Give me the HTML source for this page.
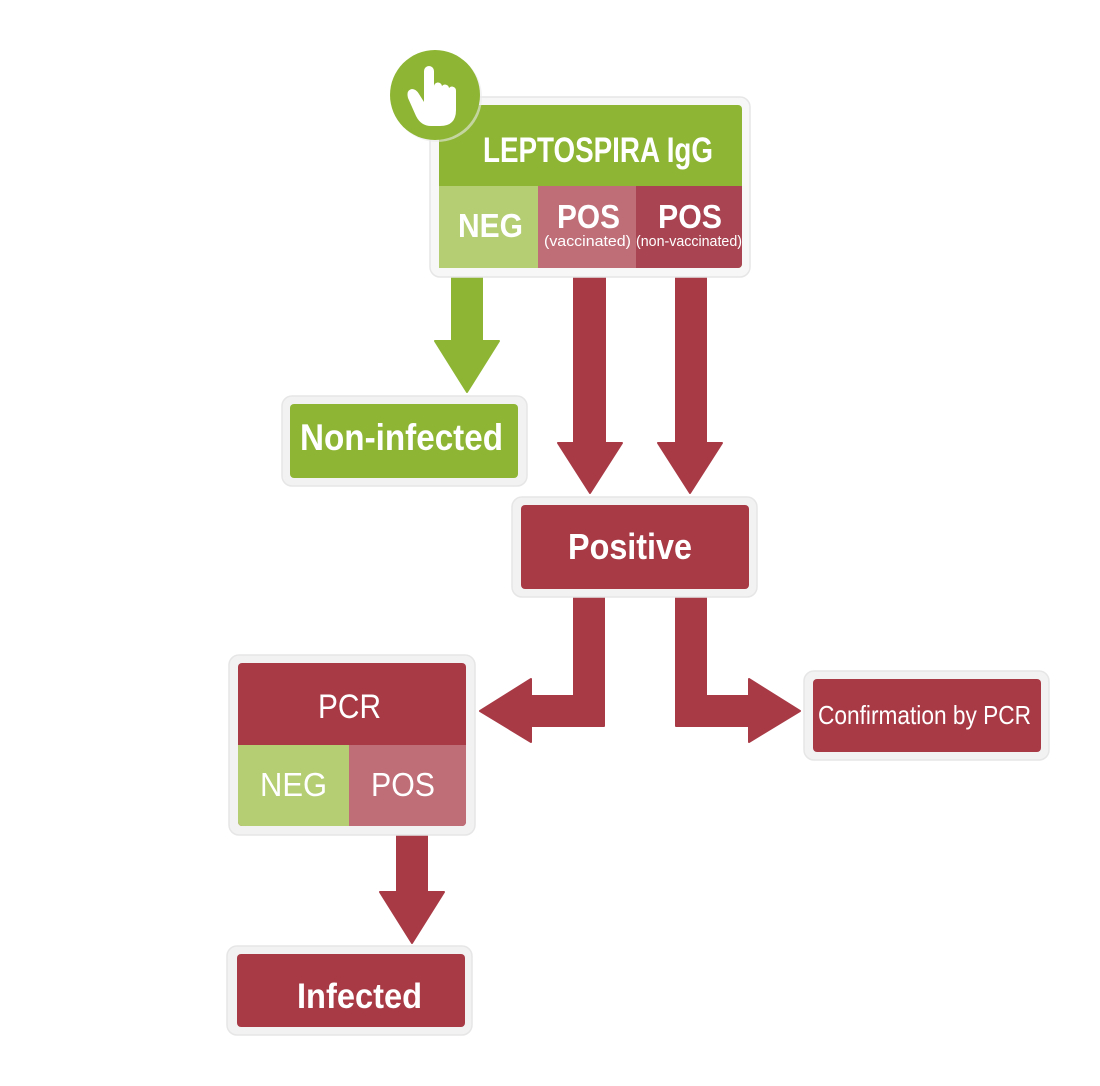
<!DOCTYPE html>
<html><head><meta charset="utf-8"><style>
html,body{margin:0;padding:0;background:#fff;}
svg{display:block;}
text{font-family:"Liberation Sans",sans-serif;fill:#fff;}
</style></head><body>
<svg width="1100" height="1086" viewBox="0 0 1100 1086" xmlns="http://www.w3.org/2000/svg">
<!-- arrows -->
<g stroke-linejoin="round" stroke-width="2">
<polygon points="452,277 482,277 482,341 499,341 467,392 435,341 452,341" fill="#8EB634" stroke="#8EB634"/>
<polygon points="574,277 605,277 605,443 622,443 590,493 558,443 574,443" fill="#A83A46" stroke="#A83A46"/>
<polygon points="676,277 706,277 706,443 722,443 690,493 658,443 676,443" fill="#A83A46" stroke="#A83A46"/>
<polygon points="574,597 604,597 604,726 531,726 531,742 480,711 531,679 531,696 574,696" fill="#A83A46" stroke="#A83A46"/>
<polygon points="676,597 706,597 706,696 749,696 749,679 800,711 749,742 749,726 676,726" fill="#A83A46" stroke="#A83A46"/>
<polygon points="397,835 427,835 427,892 444,892 412,943 380,892 397,892" fill="#A83A46" stroke="#A83A46"/>
</g>

<!-- top box -->
<rect x="430" y="97" width="320" height="180" rx="10" fill="#F7F7F7" stroke="#E6E6E6" stroke-width="1.5"/>
<rect x="439" y="105" width="303" height="163" rx="4" fill="#8EB634"/>
<rect x="439" y="186" width="99" height="82" fill="#B5CE74"/>
<rect x="538" y="186" width="98" height="82" fill="#BF6E78"/>
<path d="M636 186 H742 V264 a4 4 0 0 1 -4 4 H636 Z" fill="#A94452"/>
<path d="M439 186 H538 V268 H443 a4 4 0 0 1 -4 -4 Z" fill="#B5CE74"/>
<text x="483" y="162" font-size="35" font-weight="bold" textLength="230" lengthAdjust="spacingAndGlyphs">LEPTOSPIRA IgG</text>
<text x="458" y="237" font-size="33" font-weight="bold" textLength="65" lengthAdjust="spacingAndGlyphs">NEG</text>
<text x="557" y="228" font-size="33" font-weight="bold" textLength="63" lengthAdjust="spacingAndGlyphs">POS</text>
<text x="544" y="246" font-size="15" textLength="87" lengthAdjust="spacingAndGlyphs">(vaccinated)</text>
<text x="658" y="228" font-size="33" font-weight="bold" textLength="64" lengthAdjust="spacingAndGlyphs">POS</text>
<text x="636" y="246" font-size="15" textLength="106" lengthAdjust="spacingAndGlyphs">(non-vaccinated)</text>

<!-- hand icon -->
<circle cx="437" cy="97" r="45" fill="#E9E9E9" opacity="0.6"/>
<circle cx="435" cy="95" r="45" fill="#8EB634"/>
<path d="M424 71 A5 5 0 0 1 434 71 L434 87 A4 4 0 0 1 442 86 A4 4 0 0 1 449 88 A4 4 0 0 1 456 91 L456 110 Q456 126 440 126 L431 126 Q421 126 416 116 L408 98 Q406 90 412 89 Q416 89 419 94 L424 102 Z" fill="#fff"/>

<!-- Non-infected -->
<rect x="282" y="396" width="245" height="90" rx="10" fill="#F2F2F2" stroke="#E6E6E6" stroke-width="1.5"/>
<rect x="290" y="404" width="228" height="74" rx="4" fill="#8EB634"/>
<text x="300" y="450" font-size="37" font-weight="bold" textLength="203" lengthAdjust="spacingAndGlyphs">Non-infected</text>

<!-- Positive -->
<rect x="512" y="497" width="245" height="100" rx="10" fill="#F2F2F2" stroke="#E6E6E6" stroke-width="1.5"/>
<rect x="521" y="505" width="228" height="84" rx="4" fill="#A83A46"/>
<text x="568" y="559" font-size="36" font-weight="bold" textLength="124" lengthAdjust="spacingAndGlyphs">Positive</text>

<!-- PCR -->
<rect x="229" y="655" width="246" height="180" rx="10" fill="#F2F2F2" stroke="#E6E6E6" stroke-width="1.5"/>
<rect x="238" y="663" width="228" height="163" rx="4" fill="#A83A46"/>
<path d="M238 745 H349 V826 H242 a4 4 0 0 1 -4 -4 Z" fill="#B5CE74"/>
<path d="M349 745 H466 V822 a4 4 0 0 1 -4 4 H349 Z" fill="#BF6E78"/>
<text x="318" y="718" font-size="34" textLength="63" lengthAdjust="spacingAndGlyphs">PCR</text>
<text x="260" y="796" font-size="33" textLength="67" lengthAdjust="spacingAndGlyphs">NEG</text>
<text x="371" y="796" font-size="33" textLength="64" lengthAdjust="spacingAndGlyphs">POS</text>

<!-- Confirmation -->
<rect x="804" y="671" width="245" height="89" rx="10" fill="#F2F2F2" stroke="#E6E6E6" stroke-width="1.5"/>
<rect x="813" y="679" width="228" height="73" rx="4" fill="#A83A46"/>
<text x="818" y="724" font-size="26" textLength="213" lengthAdjust="spacingAndGlyphs">Confirmation by PCR</text>

<!-- Infected -->
<rect x="227" y="946" width="245" height="89" rx="10" fill="#F2F2F2" stroke="#E6E6E6" stroke-width="1.5"/>
<rect x="237" y="954" width="228" height="73" rx="4" fill="#A83A46"/>
<text x="297" y="1008" font-size="35" font-weight="bold" textLength="125" lengthAdjust="spacingAndGlyphs">Infected</text>
</svg>
</body></html>
